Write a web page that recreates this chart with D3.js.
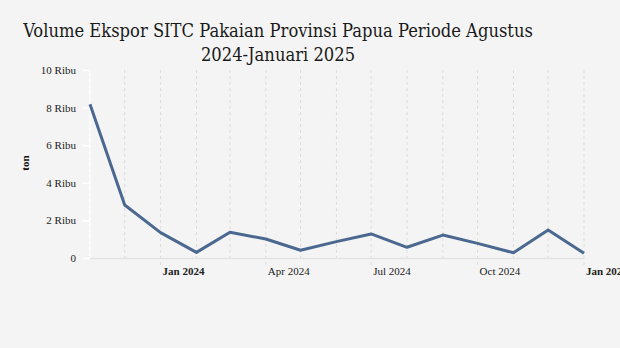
<!DOCTYPE html>
<html>
<head>
<meta charset="utf-8">
<script src="https://cdn.jsdelivr.net/npm/d3@7"></script>
<style>
html,body{margin:0;padding:0;background:#f4f4f4;}
svg{display:block;}
</style>
</head>
<body>
<div id="chart"></div>
<script>
const titleLines = ["Volume Ekspor SITC Pakaian Provinsi Papua Periode Agustus", "2024-Januari 2025"];
const months = ["2023-11","2023-12","2024-01","2024-02","2024-03","2024-04","2024-05","2024-06","2024-07","2024-08","2024-09","2024-10","2024-11","2024-12","2025-01"];
const volumes = [8180, 2820, 1350, 300, 1370, 1010, 410, 870, 1280, 570, 1220, 780, 280, 1490, 250];
const yTicks = [0, 2000, 4000, 6000, 8000, 10000];
const yTickLabels = ["0", "2 Ribu", "4 Ribu", "6 Ribu", "8 Ribu", "10 Ribu"];
const xTickMonths = ["2024-01","2024-04","2024-07","2024-10","2025-01"];
const xTickLabels = ["Jan 2024","Apr 2024","Jul 2024","Oct 2024","Jan 2025"];
const yAxisTitle = "ton";

const W = 620, H = 348;
const parse = d3.timeParse("%Y-%m");
const dates = months.map(parse);
const data = dates.map((d, i) => ({date: d, value: volumes[i]}));

const svg = d3.select("#chart").append("svg").attr("width", W).attr("height", H)
  .style("background", "#f4f4f4");

const x = d3.scaleTime().domain([dates[0], dates[dates.length - 1]]).range([90, 584]);
const y = d3.scaleLinear().domain([0, 10000]).range([258, 70]);

// title
const title = svg.append("text").attr("text-anchor", "middle")
  .attr("font-family", "'DejaVu Serif Condensed', 'DejaVu Serif', serif")
  .attr("font-size", 18.2).attr("fill", "#1a1a1a");
titleLines.forEach((t, i) => {
  title.append("tspan").attr("x", 278).attr("y", 36.5 + i * 24).text(t);
});

// vertical dashed gridlines for each month
svg.append("g").selectAll("line").data(dates).join("line")
  .attr("x1", d => x(d)).attr("x2", d => x(d))
  .attr("y1", 70).attr("y2", d => xTickMonths.includes(d3.timeFormat("%Y-%m")(d)) ? 266 : 258)
  .attr("stroke", "#dcdcdc").attr("stroke-width", 1).attr("stroke-dasharray", "3,3");

// x axis baseline
svg.append("line").attr("x1", 90).attr("x2", 584).attr("y1", 258.5).attr("y2", 258.5)
  .attr("stroke", "#e3e3e3").attr("stroke-width", 1.5);

// x tick labels
const xt = xTickMonths.map(parse);
svg.append("g").selectAll("text").data(xt).join("text")
  .attr("x", d => x(d) + 2).attr("y", 275)
  .attr("font-family", "'Liberation Serif', 'Times New Roman', serif")
  .attr("font-size", 11)
  .attr("font-weight", (d, i) => xTickLabels[i].startsWith("Jan") ? "bold" : "normal")
  .attr("fill", "#222")
  .text((d, i) => xTickLabels[i]);

// y axis
const yAxis = d3.axisLeft(y).tickValues(yTicks).tickFormat((d, i) => yTickLabels[i]).tickSize(7).tickPadding(7);
const yg = svg.append("g").attr("transform", "translate(90,0)").call(yAxis);
yg.select(".domain").attr("stroke", "#ffffff").attr("stroke-width", 1.5).attr("d", "M0,70V258");
yg.selectAll(".tick line").attr("stroke", "#ffffff").attr("stroke-width", 1.5);
yg.selectAll(".tick text").attr("font-family", "'Liberation Serif', 'Times New Roman', serif")
  .attr("font-size", 11).attr("fill", "#222");

// y axis title
svg.append("text").attr("transform", "translate(29,163) rotate(-90)")
  .attr("text-anchor", "middle")
  .attr("font-family", "'Liberation Serif', 'Times New Roman', serif")
  .attr("font-size", 11).attr("font-weight", "bold").attr("fill", "#111")
  .text(yAxisTitle);

// line
const line = d3.line().x(d => x(d.date)).y(d => y(d.value));
svg.append("path").datum(data).attr("d", line)
  .attr("fill", "none").attr("stroke", "#4b6890").attr("stroke-width", 3)
  .attr("stroke-linejoin", "round");
</script>
</body>
</html>
